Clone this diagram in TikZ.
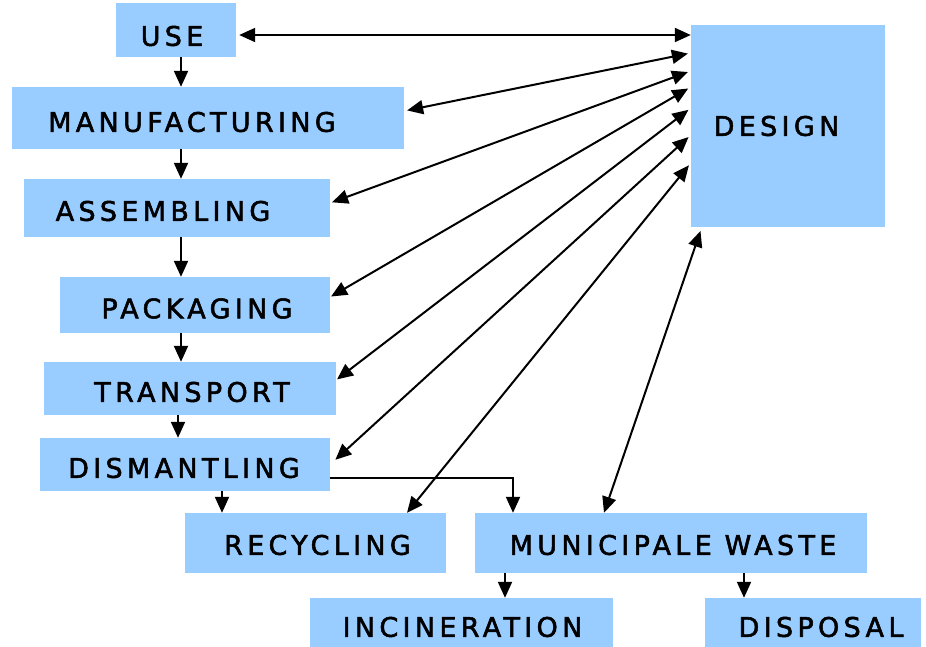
\documentclass[tikz,border=0pt]{standalone}
\usepackage{fontspec}
\newfontfamily\boxfont{DejaVu Sans}[LetterSpace=16,FakeBold=2]
\usetikzlibrary{arrows.meta}
\definecolor{boxblue}{RGB}{153,204,255}
\begin{document}
\begin{tikzpicture}[x=1pt,y=-1pt,
  box/.style={fill=boxblue, draw=none, inner sep=0pt},
  lbl/.style={font=\boxfont\fontsize{27}{32}\selectfont, inner sep=0pt, text=black},
  arr/.style={line width=2pt, -{Triangle[length=16pt,width=14pt]}},
  darr/.style={line width=2pt, {Triangle[length=16pt,width=14pt]}-{Triangle[length=16pt,width=14pt]}}]
\useasboundingbox (0,0) rectangle (926,646);
\clip (0,0) rectangle (926,646);
\fill[white] (0,0) rectangle (926,646);
% boxes
\node[box, minimum width=120pt, minimum height=54pt, label={[lbl,xshift=-4pt,yshift=-6pt]center:USE}] (use) at (176,30) {};
\node[box, minimum width=392pt, minimum height=62pt, label={[lbl,xshift=-16pt,yshift=-4pt]center:MANUFACTURING}] (manu) at (208,118) {};
\node[box, minimum width=306pt, minimum height=58pt, label={[lbl,xshift=-14pt,yshift=-3pt]center:ASSEMBLING}] (assem) at (177,208) {};
\node[box, minimum width=270pt, minimum height=56pt, label={[lbl,xshift=2pt,yshift=-3.5pt]center:PACKAGING}] (pack) at (195,305) {};
\node[box, minimum width=292pt, minimum height=53pt, label={[lbl,xshift=2pt,yshift=-3.5pt]center:TRANSPORT}] (trans) at (190,388.5) {};
\node[box, minimum width=290pt, minimum height=53pt, label={[lbl,xshift=-1pt,yshift=-3.5pt]center:DISMANTLING}] (dism) at (185,464.5) {};
\node[box, minimum width=261pt, minimum height=60pt, label={[lbl,xshift=2pt,yshift=-2pt]center:RECYCLING}] (recyc) at (315.5,543) {};
\node[box, minimum width=392pt, minimum height=60pt, label={[lbl,xshift=2pt,yshift=-2pt]center:MUNICIPALE WASTE}] (mw) at (671,543) {};
\node[box, minimum width=303pt, minimum height=58pt, label={[lbl,xshift=1pt,yshift=0pt]center:INCINERATION}] (incin) at (461.5,627) {};
\node[box, minimum width=216pt, minimum height=58pt, label={[lbl,xshift=8pt,yshift=0pt]center:DISPOSAL}] (disp) at (813,627) {};
\node[box, minimum width=194pt, minimum height=202pt, label={[lbl,xshift=-11.5pt,yshift=0pt]center:DESIGN}] (design) at (788,126) {};
% column coordinates
\coordinate (c1) at (181,0);
\coordinate (c2) at (178,0);
\coordinate (c3) at (222,0);
\coordinate (c4) at (505,0);
\coordinate (c5) at (744,0);
% vertical flow
\draw[arr] (use.south -| c1) -- (manu.north -| c1);
\draw[arr] (manu.south -| c1) -- (assem.north -| c1);
\draw[arr] (assem.south -| c1) -- (pack.north -| c1);
\draw[arr] (pack.south -| c1) -- (trans.north -| c1);
\draw[arr] (trans.south -| c2) -- (dism.north -| c2);
\draw[arr] (dism.south -| c3) -- (recyc.north -| c3);
\draw[arr] ([yshift=-13.5pt]dism.east) -| ([xshift=-158pt]mw.north);
\draw[arr] (mw.south -| c4) -- (incin.north -| c4);
\draw[arr] (mw.south -| c5) -- (disp.north -| c5);
% design links
\draw[darr, shorten <=3pt] ([yshift=-5pt]use.east) -- ([yshift=-5pt]use.east -| design.west);
\draw[darr, shorten <=3pt, shorten >=3pt] ([yshift=7pt]manu.east) -- ([yshift=73pt]design.west);
\draw[darr, shorten <=2pt, shorten >=3pt] ([yshift=5pt]assem.east) -- ([yshift=55pt]design.west);
\draw[darr, shorten <=1pt, shorten >=3pt] ([yshift=8pt]pack.east) -- ([yshift=39pt]design.west);
\draw[darr, shorten <=1pt, shorten >=3pt] ([yshift=8.5pt]trans.east) -- ([yshift=18pt]design.west);
\draw[darr, shorten <=7pt, shorten >=3pt] (dism.east) -- ([yshift=-9pt]design.west);
\draw[darr, shorten >=3pt] ([xshift=91.5pt]recyc.north) -- ([yshift=-37pt]design.west);
\draw[darr, shorten >=4pt] ([xshift=-67pt]mw.north) -- ([xshift=11pt]design.south west);
\end{tikzpicture}
\end{document}
